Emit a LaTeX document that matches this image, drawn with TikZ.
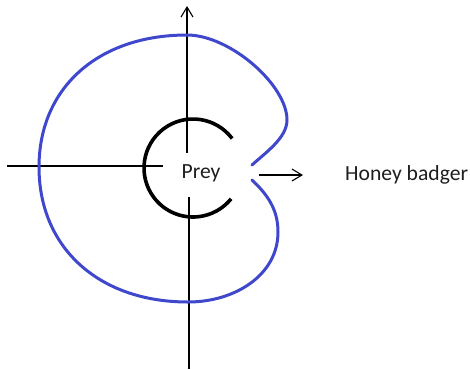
\documentclass[tikz,border=0pt]{standalone}
\usepackage{fontspec}
\setmainfont{Carlito}
\usetikzlibrary{arrows.meta}
\definecolor{paintblue}{RGB}{63,72,204}
\definecolor{txtgray}{RGB}{30,30,30}
\tikzset{
  axisline/.style={line width=1.2bp, black},
  barb/.style={-{Straight Barb[length=10bp,width=12bp,line width=1.1bp]}},
  lbl/.style={font=\fontsize{21.7pt}{24pt}\selectfont, text=txtgray, inner sep=0pt},
  preyarc/.style={line width=3.6bp, black},
  zone/.style={line width=3bp, paintblue, line join=round, line cap=round}
}
\begin{document}
\begin{tikzpicture}[x=1bp,y=-1bp]
\useasboundingbox (0,0) rectangle (470,369);
% coordinates
\coordinate (vtopS) at (187,153);
\coordinate (vtopE) at (187,6);
\coordinate (vbotS) at (189,197);
\coordinate (vbotE) at (189,369);
\coordinate (hleftS) at (7,166);
\coordinate (hleftE) at (163,166);
\coordinate (hrS) at (259,175);
\coordinate (hrE) at (303,175);
% axes
\draw[axisline, barb] (vtopS) -- (vtopE);
\draw[axisline] (vbotS) -- (vbotE);
\draw[axisline] (hleftS) -- (hleftE);
\draw[axisline, barb] (hrS) -- (hrE);
% prey arc
\coordinate (pc) at (193,168);
\draw[preyarc] (pc) ++(37:{49} and {-49}) arc[start angle=37, end angle=321, x radius=49, y radius=-49];
% blue zone
\draw[zone] (252,165)
  .. controls (265,153) and (287,138) .. (287,120)
  .. controls (287,85) and (230,35) .. (187,35)
  .. controls (98,35) and (39,88) .. (39,167)
  .. controls (39,248) and (99,302) .. (188,302)
  .. controls (235,302) and (278,275) .. (278,232)
  .. controls (278,210) and (268,195) .. (252,180);
% labels
\node[lbl] (prey) at (201,173) {Prey};
\node[lbl, anchor=west] (hb) at (345,175) {Honey badger};
\end{tikzpicture}
\end{document}
